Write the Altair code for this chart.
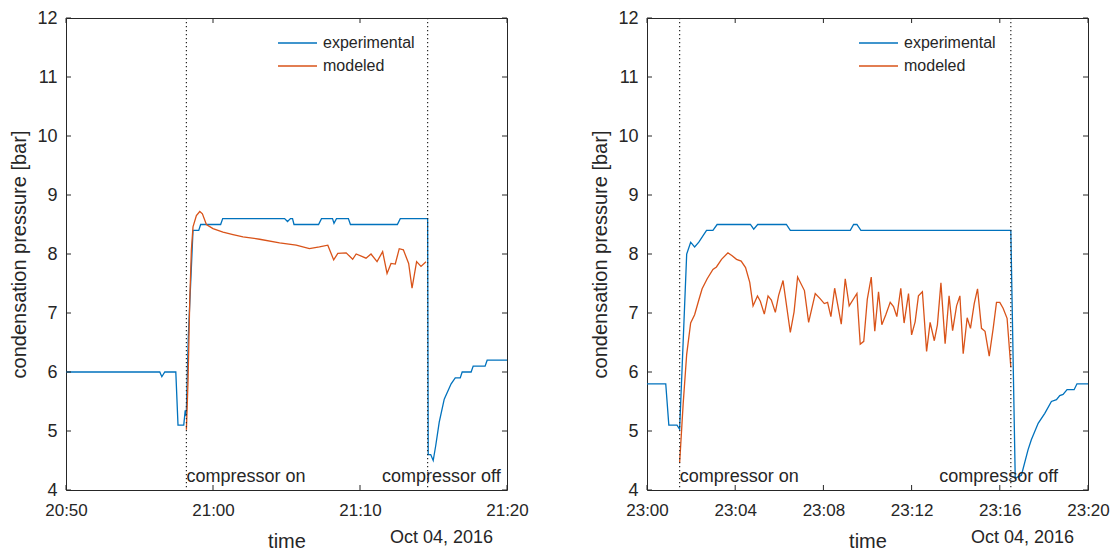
import altair as alt
import pandas as pd

# ---------------- data ----------------
SERIES = ["experimental", "modeled"]
COLORS = ["#0072BD", "#D95319"]
Y_TICKS = [4, 5, 6, 7, 8, 9, 10, 11, 12]
DATE_LABEL = "Oct 04, 2016"
EVENT_LABELS = ["compressor on", "compressor off"]

# left panel (minutes after 20:50)
L_BASE = "2016-10-04 20:50"
L_TICKS = ["20:50", "21:00", "21:10", "21:20"]
L_EXP_T = [0, 6.38, 6.52, 6.72, 7.47, 7.62, 8.01, 8.11, 8.18, 8.32, 8.64, 9.03, 9.16, 10.52, 10.66,
           14.87, 15.07, 15.27, 15.41, 15.51, 17.18, 17.38, 18.13, 18.23, 18.40, 19.21, 19.35, 22.54,
           22.74, 24.6, 24.64, 24.81, 24.98, 25.15, 25.39, 25.73, 26.2, 26.48, 26.82, 26.95, 27.56,
           27.7, 28.51, 28.65, 30]
L_EXP_V = [6.0, 6.0, 5.92, 6.0, 6.0, 5.1, 5.1, 5.35, 5.25, 6.6, 8.4, 8.4, 8.5, 8.5, 8.6,
           8.6, 8.55, 8.6, 8.6, 8.5, 8.5, 8.6, 8.6, 8.52, 8.6, 8.6, 8.5, 8.5,
           8.6, 8.6, 4.6, 4.6, 4.5, 4.75, 5.15, 5.54, 5.8, 5.9, 5.9, 6.0, 6.0,
           6.1, 6.1, 6.2, 6.2]
L_MOD_T = [8.19, 8.30, 8.42, 8.53, 8.64, 8.87, 9.10, 9.28, 9.55, 10.0, 10.68, 11.36, 12.04, 12.67,
           13.17, 14.53, 15.66, 16.56, 17.24, 17.81, 18.21, 18.49, 19.06, 19.5, 19.74, 20.41, 20.75,
           21.16, 21.54, 21.84, 22.11, 22.4, 22.67, 22.95, 23.31, 23.54, 23.85, 24.15, 24.49]
L_MOD_V = [5.02, 5.83, 7.23, 8.07, 8.46, 8.65, 8.72, 8.68, 8.5, 8.43, 8.37, 8.33, 8.29, 8.27,
           8.25, 8.19, 8.15, 8.09, 8.12, 8.15, 7.9, 8.01, 8.02, 7.91, 8.0, 7.93, 8.0,
           7.87, 8.04, 7.67, 7.84, 7.83, 8.09, 8.07, 7.84, 7.42, 7.87, 7.79, 7.87]
L_EVENTS = [8.19, 24.6]          # compressor on / off
L_EVENT_TEXT_T = [8.19, 21.5]    # where the labels start

# right panel (minutes after 23:00)
R_BASE = "2016-10-04 23:00"
R_TICKS = ["23:00", "23:04", "23:08", "23:12", "23:16", "23:20"]
R_EXP_T = [0, 0.85, 0.99, 1.36, 1.48, 1.80, 1.98, 2.16, 2.35, 2.70, 2.99, 3.18, 4.69, 4.84, 5.02,
           6.32, 6.50, 9.22, 9.37, 9.52, 9.70, 16.5, 16.70, 16.98, 17.28, 17.43, 17.74, 18.04,
           18.34, 18.57, 18.72, 18.87, 19.05, 19.37, 19.50, 20]
R_EXP_V = [5.8, 5.8, 5.1, 5.1, 5.03, 8.0, 8.2, 8.12, 8.2, 8.4, 8.4, 8.5, 8.5, 8.42, 8.5,
           8.5, 8.4, 8.4, 8.5, 8.5, 8.4, 8.4, 4.2, 4.25, 4.68, 4.85, 5.13, 5.3,
           5.5, 5.53, 5.6, 5.62, 5.7, 5.7, 5.8, 5.8]
R_MOD_T = [1.48, 1.64, 1.80, 1.98, 2.16, 2.35, 2.50, 2.73, 2.99, 3.15,
           3.38, 3.67, 3.86, 4.06, 4.27, 4.47, 4.66, 4.81, 5.01, 5.14,
           5.32, 5.49, 5.64, 5.82, 5.97, 6.17, 6.50, 6.67, 6.83, 7.14,
           7.33, 7.63, 7.86, 8.04, 8.19, 8.34, 8.51, 8.81, 8.99, 9.17,
           9.52, 9.67, 9.83, 9.99, 10.17, 10.33, 10.50, 10.65, 10.83, 11.03,
           11.18, 11.33, 11.51, 11.66, 11.86, 12.00, 12.16, 12.31, 12.49, 12.68,
           12.84, 13.03, 13.17, 13.33, 13.52, 13.70, 13.86, 14.04, 14.19, 14.34,
           14.52, 14.67, 14.84, 14.99, 15.17, 15.33, 15.52, 15.70, 15.85, 16.0,
           16.15, 16.33, 16.50]
R_MOD_V = [4.46, 5.46, 6.3, 6.83, 6.97, 7.22, 7.41, 7.58, 7.74, 7.78,
           7.91, 8.02, 7.97, 7.91, 7.88, 7.77, 7.52, 7.12, 7.29, 7.2,
           6.98, 7.29, 7.22, 7.01, 7.3, 7.55, 6.67, 7.02, 7.61, 7.38,
           6.84, 7.33, 7.24, 7.16, 7.18, 6.94, 7.42, 6.81, 7.58, 7.12,
           7.33, 6.47, 6.52, 7.23, 7.61, 6.69, 7.36, 6.8, 6.97, 7.18,
           7.11, 6.94, 7.42, 6.83, 7.33, 6.63, 6.85, 7.29, 7.36, 6.35,
           6.84, 6.53, 6.8, 7.51, 6.48, 7.29, 6.7, 7.12, 7.29, 6.31,
           6.92, 6.74, 7.16, 7.41, 6.74, 6.69, 6.27, 6.74, 7.18, 7.18,
           7.08, 6.91, 6.08]
R_EVENTS = [1.48, 16.5]
R_EVENT_TEXT_T = [1.48, 13.25]

# ---------------- styling ----------------
W, H = 441, 472
TXT = "#262626"
FONT = "Liberation Sans"
ONE = pd.DataFrame({"k": [0]})   # single-row helper for decorations


def to_time(base, minutes):
    return pd.Timestamp(base) + pd.to_timedelta(minutes, unit="m")


def tick_time(base, hhmm):
    b = pd.Timestamp(base)
    h, m = (int(p) for p in hhmm.split(":"))
    return b.normalize() + pd.Timedelta(hours=h, minutes=m)


def dt(base, hhmm):
    t = tick_time(base, hhmm)
    return alt.DateTime(year=t.year, month=t.month, date=t.day, hours=t.hour, minutes=t.minute)


def panel(base, ticks, exp_t, exp_v, mod_t, mod_v, events, ev_text_t):
    assert len(exp_t) == len(exp_v) and len(mod_t) == len(mod_v)
    tick_dts = [dt(base, t) for t in ticks]
    xscale = alt.Scale(domain=[tick_dts[0], tick_dts[-1]], nice=False)
    yscale = alt.Scale(domain=[Y_TICKS[0], Y_TICKS[-1]], nice=False)
    xaxis = alt.Axis(values=tick_dts, format="%H:%M", title="time", ticks=False, tickSize=0,
                     domain=False, grid=False, labelPadding=12, titlePadding=13,
                     labelFontSize=17, titleFontSize=20, labelFlush=False,
                     titleFontWeight="normal", labelFont=FONT, titleFont=FONT,
                     labelColor=TXT, titleColor=TXT)
    yaxis = alt.Axis(values=Y_TICKS, format="d", title="condensation pressure [bar]",
                     ticks=False, tickSize=0, domain=False, grid=False, labelPadding=9,
                     titlePadding=7, labelFontSize=18, titleFontSize=20,
                     titleFontWeight="normal", labelFont=FONT, titleFont=FONT,
                     labelColor=TXT, titleColor=TXT)

    exp_df = pd.DataFrame({"time": to_time(base, exp_t), "value": exp_v})
    mod_df = pd.DataFrame({"time": to_time(base, mod_t), "value": mod_v})
    ev_df = pd.DataFrame({"time": to_time(base, events)})
    evt_df = pd.DataFrame({"time": to_time(base, ev_text_t), "label": EVENT_LABELS,
                           "value": [4.22, 4.22]})
    xt_df = pd.DataFrame({"time": [tick_time(base, t) for t in ticks]})
    yt_df = pd.DataFrame({"value": Y_TICKS})

    exp_line = alt.Chart(exp_df).mark_line(color=COLORS[0], strokeWidth=1.3).encode(
        x=alt.X("time:T", scale=xscale, axis=xaxis),
        y=alt.Y("value:Q", scale=yscale, axis=yaxis),
    )
    mod_line = alt.Chart(mod_df).mark_line(color=COLORS[1], strokeWidth=1.3).encode(
        x="time:T", y="value:Q")
    ev_rules = alt.Chart(ev_df).mark_rule(color=TXT, strokeDash=[1.2, 2.8], strokeWidth=1.2).encode(
        x="time:T")
    ev_text = alt.Chart(evt_df).mark_text(align="left", baseline="middle", fontSize=18,
                                         color=TXT, font=FONT).encode(
        x="time:T", y="value:Q", text="label:N")

    # inward ticks (MATLAB style box)
    yt_l = alt.Chart(yt_df).mark_rule(color=TXT).encode(
        y="value:Q", x=alt.value(0), x2=alt.value(5))
    yt_r = alt.Chart(yt_df).mark_rule(color=TXT).encode(
        y="value:Q", x=alt.value(W - 5), x2=alt.value(W))
    xt_b = alt.Chart(xt_df).mark_rule(color=TXT).encode(
        x="time:T", y=alt.value(H - 5), y2=alt.value(H))
    xt_t = alt.Chart(xt_df).mark_rule(color=TXT).encode(
        x="time:T", y=alt.value(0), y2=alt.value(5))

    # legend
    leg = []
    for i, (name, col) in enumerate(zip(SERIES, COLORS)):
        yy = 25 + 23 * i
        leg.append(alt.Chart(ONE).mark_rule(color=col, strokeWidth=1.3).encode(
            x=alt.value(212), x2=alt.value(251), y=alt.value(yy)))
        leg.append(alt.Chart(ONE).mark_text(text=name, align="left", baseline="middle",
                                            fontSize=16, color=TXT, font=FONT).encode(
            x=alt.value(257), y=alt.value(yy)))

    date_txt = alt.Chart(ONE).mark_text(text=DATE_LABEL, align="right", baseline="middle",
                                        fontSize=18, color=TXT, font=FONT).encode(
        x=alt.value(427), y=alt.value(H + 48))

    return alt.layer(exp_line, mod_line, ev_rules, ev_text, yt_l, yt_r, xt_b, xt_t,
                     *leg, date_txt).properties(
        width=W, height=H, view=alt.ViewBackground(stroke=TXT, strokeWidth=1))


left = panel(L_BASE, L_TICKS, L_EXP_T, L_EXP_V, L_MOD_T, L_MOD_V, L_EVENTS, L_EVENT_TEXT_T)
right = panel(R_BASE, R_TICKS, R_EXP_T, R_EXP_V, R_MOD_T, R_MOD_V, R_EVENTS, R_EVENT_TEXT_T)

chart = alt.hconcat(left, right, spacing=61).properties(
    padding={"left": 1, "top": 0, "right": 0, "bottom": 0}
).configure_view(
    stroke=TXT, strokeWidth=1
).configure(background="white")

chart.save("out.html", embed_options={"renderer": "svg", "actions": False})
